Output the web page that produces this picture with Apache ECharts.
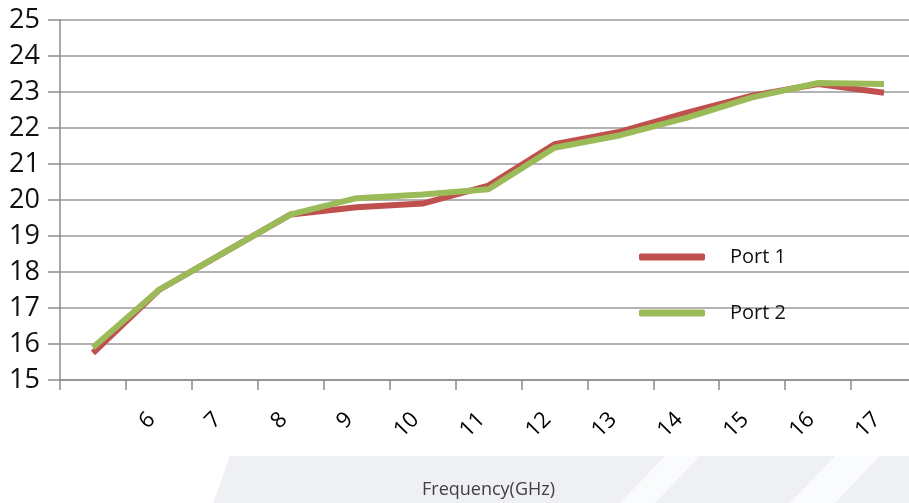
<!DOCTYPE html>
<html>
<head>
<meta charset="utf-8">
<script src="https://cdn.jsdelivr.net/npm/echarts@6/dist/echarts.min.js"></script>
<style>html,body{margin:0;padding:0;background:#fff;}#c{width:909px;height:503px;}</style>
</head>
<body>
<div id="c"></div>
<script>
var freq = ['5','6','7','8','9','10','11','12','13','14','15','16','17'];
var port1 = [15.75, 17.5, 18.55, 19.6, 19.8, 19.9, 20.4, 21.55, 21.9, 22.42, 22.9, 23.22, 22.98];
var port2 = [15.9, 17.5, 18.55, 19.6, 20.05, 20.15, 20.3, 21.45, 21.8, 22.28, 22.85, 23.25, 23.22];
var yTicks = [15, 16, 17, 18, 19, 20, 21, 22, 23, 24, 25];

var chart = echarts.init(document.getElementById('c'));
chart.setOption({
  backgroundColor: '#ffffff',
  animation: false,
  graphic: [
    { type: 'polygon', silent: true, z: -10,
      shape: { points: [[230, 456], [909, 456], [909, 503], [213, 503]] },
      style: { fill: '#eff0f4' } },
    { type: 'polygon', silent: true, z: -9,
      shape: { points: [[665, 456], [700, 456], [655, 503], [620, 503]] },
      style: { fill: '#ffffff', opacity: 0.7 } },
    { type: 'polygon', silent: true, z: -9,
      shape: { points: [[835, 456], [880, 456], [835, 503], [790, 503]] },
      style: { fill: '#ffffff', opacity: 0.7 } }
  ],
  grid: { left: 60, top: 20, right: -8, bottom: 123, containLabel: false, outerBoundsMode: 'none' },
  legend: {
    orient: 'vertical',
    left: 634,
    top: 242,
    itemGap: 36,
    itemWidth: 66,
    itemHeight: 7,
    icon: 'roundRect',
    textStyle: { fontFamily: 'Open Sans', fontSize: 20, color: '#111', padding: [0, 0, 0, 20] },
    data: ['Port 1', 'Port 2']
  },
  xAxis: {
    type: 'category',
    data: freq,
    boundaryGap: true,
    name: 'Frequency(GHz)',
    nameLocation: 'middle',
    nameGap: 101,
    nameTextStyle: { fontFamily: 'Open Sans', fontSize: 18, color: '#404040' },
    axisLine: { show: true, lineStyle: { color: '#8c8c8c', width: 1.5 } },
    axisTick: { show: true, length: 10, lineStyle: { color: '#8c8c8c', width: 1.5 } },
    axisLabel: {
      rotate: 45,
      margin: 29,
      padding: [0, 10, 0, 0],
      fontFamily: 'Open Sans',
      fontSize: 22,
      color: '#000',
      formatter: function (v, i) { return i === 0 ? '' : v; }
    },
    splitLine: { show: false }
  },
  yAxis: {
    type: 'value',
    min: yTicks[0],
    max: yTicks[yTicks.length - 1],
    interval: 1,
    axisLine: { show: true, lineStyle: { color: '#8c8c8c', width: 1.5 } },
    axisTick: { show: true, inside: false, length: 12, lineStyle: { color: '#8c8c8c', width: 1.5 } },
    axisLabel: { margin: 20, fontFamily: 'Open Sans', fontSize: 27, color: '#111' },
    splitLine: { show: true, lineStyle: { color: '#9a9a9a', width: 1.5 } }
  },
  series: [
    { name: 'Port 1', type: 'line', data: port1, symbol: 'none', smooth: false,
      lineStyle: { color: '#c0504d', width: 6 }, itemStyle: { color: '#c0504d' } },
    { name: 'Port 2', type: 'line', data: port2, symbol: 'none', smooth: false,
      lineStyle: { color: '#9bbb59', width: 6 }, itemStyle: { color: '#9bbb59' } }
  ]
});
</script>
</body>
</html>
